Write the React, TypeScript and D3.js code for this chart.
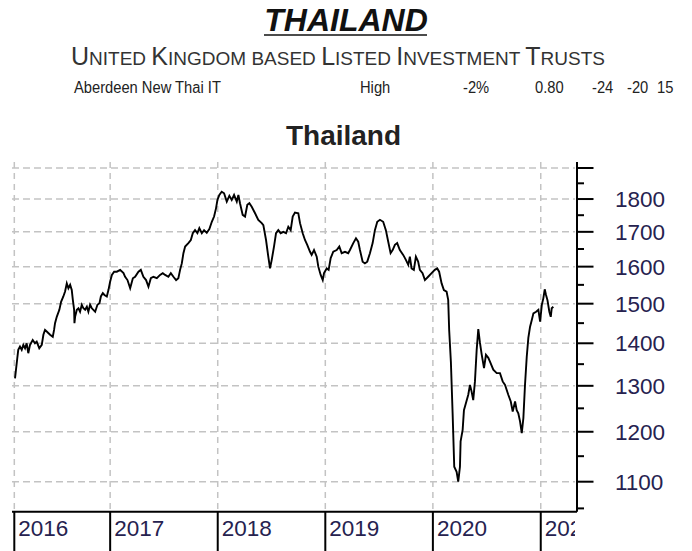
import React from 'react';
import * as d3 from 'd3';

// ---- data (decimal years, share price) ----
const years = [
  2016.118, 2016.127, 2016.139, 2016.148, 2016.164, 2016.180, 2016.195, 2016.211, 2016.226, 2016.241,
  2016.257, 2016.282, 2016.303, 2016.319, 2016.343, 2016.366, 2016.381, 2016.396, 2016.412, 2016.443,
  2016.468, 2016.480, 2016.489, 2016.505, 2016.529, 2016.545, 2016.566, 2016.582, 2016.598, 2016.613,
  2016.629, 2016.644, 2016.654, 2016.666, 2016.669, 2016.675, 2016.691, 2016.706, 2016.721, 2016.737,
  2016.752, 2016.768, 2016.784, 2016.798, 2016.814, 2016.830, 2016.861, 2016.882, 2016.901, 2016.914,
  2016.932, 2016.947, 2016.969, 2016.984, 2017.000, 2017.016, 2017.037, 2017.062, 2017.093, 2017.124,
  2017.139, 2017.161, 2017.186, 2017.211, 2017.232, 2017.263, 2017.285, 2017.309, 2017.334, 2017.356,
  2017.378, 2017.402, 2017.434, 2017.464, 2017.489, 2017.511, 2017.541, 2017.564, 2017.588, 2017.613,
  2017.634, 2017.650, 2017.666, 2017.681, 2017.697, 2017.727, 2017.750, 2017.768, 2017.789, 2017.811,
  2017.829, 2017.852, 2017.873, 2017.898, 2017.922, 2017.945, 2017.966, 2017.984, 2017.997, 2018.015,
  2018.037, 2018.059, 2018.084, 2018.108, 2018.130, 2018.152, 2018.177, 2018.192, 2018.207, 2018.232,
  2018.254, 2018.275, 2018.294, 2018.316, 2018.347, 2018.377, 2018.409, 2018.424, 2018.449, 2018.470,
  2018.486, 2018.502, 2018.523, 2018.542, 2018.563, 2018.585, 2018.610, 2018.635, 2018.656, 2018.678,
  2018.697, 2018.718, 2018.749, 2018.765, 2018.790, 2018.811, 2018.832, 2018.858, 2018.873, 2018.895,
  2018.920, 2018.935, 2018.957, 2018.976, 2018.988, 2019.013, 2019.031, 2019.050, 2019.074, 2019.106,
  2019.130, 2019.152, 2019.183, 2019.213, 2019.229, 2019.260, 2019.285, 2019.306, 2019.322, 2019.347,
  2019.368, 2019.390, 2019.415, 2019.440, 2019.461, 2019.483, 2019.508, 2019.538, 2019.563, 2019.585,
  2019.607, 2019.626, 2019.647, 2019.668, 2019.693, 2019.724, 2019.749, 2019.771, 2019.786, 2019.802,
  2019.823, 2019.842, 2019.863, 2019.879, 2019.904, 2019.926, 2019.956, 2019.988, 2020.018, 2020.040,
  2020.058, 2020.081, 2020.102, 2020.127, 2020.142, 2020.151, 2020.167, 2020.183, 2020.198, 2020.220,
  2020.235, 2020.251, 2020.257, 2020.276, 2020.288, 2020.306, 2020.328, 2020.344, 2020.359, 2020.374,
  2020.390, 2020.406, 2020.421, 2020.436, 2020.452, 2020.474, 2020.492, 2020.514, 2020.536, 2020.560,
  2020.592, 2020.622, 2020.647, 2020.669, 2020.699, 2020.722, 2020.740, 2020.762, 2020.777, 2020.792,
  2020.808, 2020.824, 2020.839, 2020.854, 2020.870, 2020.885, 2020.901, 2020.917, 2020.932, 2020.957,
  2020.978, 2020.994, 2021.010, 2021.024, 2021.037, 2021.049, 2021.062, 2021.080, 2021.093, 2021.102,
  2021.117,
];

const values = [
  1317, 1337, 1364, 1384, 1392, 1384, 1396, 1388, 1400, 1376,
  1396, 1408, 1400, 1404, 1388, 1396, 1421, 1433, 1429, 1421,
  1416, 1433, 1450, 1466, 1484, 1505, 1519, 1532, 1554, 1541,
  1550, 1536, 1510, 1484, 1450, 1466, 1484, 1488, 1479, 1497,
  1488, 1484, 1492, 1479, 1497, 1488, 1479, 1497, 1501, 1519,
  1528, 1523, 1519, 1536, 1559, 1577, 1586, 1586, 1591, 1582,
  1572, 1563, 1541, 1568, 1572, 1586, 1591, 1572, 1563, 1545,
  1568, 1572, 1568, 1577, 1582, 1577, 1572, 1582, 1572, 1563,
  1568, 1591, 1609, 1638, 1657, 1667, 1676, 1696, 1705, 1696,
  1711, 1696, 1705, 1697, 1708, 1730, 1746, 1771, 1797, 1813,
  1823, 1818, 1792, 1810, 1797, 1813, 1792, 1813, 1787, 1751,
  1746, 1782, 1787, 1776, 1756, 1736, 1726, 1720, 1676, 1628,
  1595, 1619, 1657, 1696, 1705, 1696, 1700, 1696, 1715, 1705,
  1746, 1758, 1756, 1726, 1696, 1676, 1662, 1642, 1633, 1647,
  1628, 1600, 1577, 1563, 1582, 1595, 1591, 1624, 1642, 1647,
  1657, 1638, 1642, 1638, 1647, 1667, 1681, 1671, 1647, 1614,
  1609, 1614, 1638, 1667, 1705, 1730, 1736, 1730, 1705, 1671,
  1638, 1647, 1662, 1667, 1647, 1633, 1619, 1605, 1628, 1595,
  1591, 1628, 1614, 1591, 1582, 1563, 1572, 1582, 1591, 1595,
  1586, 1554, 1536, 1532, 1510, 1433, 1355, 1239, 1129, 1119,
  1100, 1129, 1180, 1204, 1246, 1261, 1280, 1302, 1287, 1268,
  1310, 1384, 1435, 1402, 1374, 1341, 1372, 1365, 1352, 1337,
  1329, 1329, 1310, 1302, 1280, 1265, 1243, 1265, 1246, 1239,
  1222, 1197, 1229, 1302, 1367, 1413, 1441, 1458, 1475, 1479,
  1484, 1454, 1497, 1514, 1538, 1523, 1510, 1479, 1466, 1488,
  1492,
];

const majorTicks = [1100, 1200, 1300, 1400, 1500, 1600, 1700, 1800, 1900];
const minorTicks = [1050, 1150, 1250, 1350, 1450, 1550, 1650, 1750, 1850];
const labelTicks = [1100, 1200, 1300, 1400, 1500, 1600, 1700, 1800];
const yearTicks = [2016, 2017, 2018, 2019, 2020, 2021];

const headerTitle = 'THAILAND';
const subtitleWords = ['United', 'Kingdom', 'based', 'Listed', 'Investment', 'Trusts'];
const rowTexts = ['Aberdeen New Thai IT', 'High', '-2%', '0.80', '-24', '-20', '15'];
const chartTitle = 'Thailand';

// ---- layout ----
const W = 692;
const H = 551;
const L = 12;
const R = 577;
const T = 162;
const B = 511.7;
const rowX = [74, 360, 463, 535, 592, 627, 657];
const FONT = '"Liberation Sans", Arial, Helvetica, sans-serif';

function yearToDate(t: number): Date {
  const y = Math.floor(t);
  const s = Date.UTC(y, 0, 1);
  const e = Date.UTC(y + 1, 0, 1);
  return new Date(s + (t - y) * (e - s));
}

export default function App() {
  const x = d3
    .scaleUtc()
    .domain([yearToDate(2016.09), yearToDate(2021.337)])
    .range([L, R]);
  const y = d3.scaleLog().domain([1050, 1900]).range([508.4, 168.0]);

  const line = d3
    .line<number>()
    .x((_, i) => x(yearToDate(years[i])))
    .y((d) => y(d));

  const tickX = yearTicks.map((yr) => Math.max(x(new Date(Date.UTC(yr, 0, 1))), L + 2.3));

  const grid = '#c3c3c3';
  const labelColor = '#26224f';

  return (
    <div style={{ position: 'absolute', left: 0, top: 0 }}>
      <svg width={W} height={H} viewBox={`0 0 ${W} ${H}`} style={{ display: 'block', background: '#fff' }}>
        <defs>
          <clipPath id="xclip">
            <rect x={0} y={B} width={R - 2} height={H - B} />
          </clipPath>
        </defs>
        <rect x={0} y={0} width={W} height={H} fill="#fff" />

        {/* header */}
        <text x={346} y={31} textAnchor="middle" fontFamily={FONT} fontSize={32} fontWeight="bold" fontStyle="italic" fill="#111">
          {headerTitle}
        </text>
        <line x1={264} x2={427} y1={35} y2={35} stroke="#111" strokeWidth={1.6} />
        <text x={338} y={65} textAnchor="middle" fontFamily={FONT} fill="#333">
          {subtitleWords.map((w, i) => {
            const first = w[0];
            const isCap = first === first.toUpperCase();
            return (
              <React.Fragment key={i}>
                {isCap ? <tspan fontSize={25}>{first}</tspan> : <tspan fontSize={19}>{first.toUpperCase()}</tspan>}
                <tspan fontSize={19}>{w.slice(1).toUpperCase() + (i < subtitleWords.length - 1 ? ' ' : '')}</tspan>
              </React.Fragment>
            );
          })}
        </text>
        {rowTexts.map((t, i) => (
          <g key={i} transform={`translate(${rowX[i]},93) scale(0.92,1)`}>
            <text x={0} y={0} fontFamily={FONT} fontSize={16} fill="#222">
              {t}
            </text>
          </g>
        ))}

        {/* chart title */}
        <text x={343.5} y={145} textAnchor="middle" fontFamily={FONT} fontSize={28} fontWeight="bold" fill="#222">
          {chartTitle}
        </text>

        {/* grid */}
        {majorTicks.map((v) => (
          <line key={'h' + v} x1={L} x2={R - 2} y1={y(v)} y2={y(v)} stroke={grid} strokeWidth={1.5} strokeDasharray="7 4" />
        ))}
        {tickX.map((tx, i) => (
          <line key={'v' + i} x1={tx} x2={tx} y1={T} y2={B - 1} stroke={grid} strokeWidth={1.5} strokeDasharray="6 5" />
        ))}

        {/* price line */}
        <path d={line(values) || ''} fill="none" stroke="#000" strokeWidth={1.9} strokeLinejoin="miter" />

        {/* y axis */}
        <line x1={R} x2={R} y1={T} y2={B} stroke="#000" strokeWidth={2} />
        {majorTicks.map((v) => (
          <line key={'mt' + v} x1={R} x2={R + 16.5} y1={y(v)} y2={y(v)} stroke="#000" strokeWidth={2} />
        ))}
        {minorTicks.map((v) => (
          <line key={'nt' + v} x1={R} x2={R + 7} y1={y(v)} y2={y(v)} stroke="#000" strokeWidth={2} />
        ))}
        {labelTicks.map((v) => (
          <text key={'yl' + v} x={615} y={y(v)} dy="0.36em" fontFamily={FONT} fontSize={22.5} fill={labelColor}>
            {v}
          </text>
        ))}

        {/* x axis */}
        <line x1={L} x2={R} y1={B} y2={B} stroke="#000" strokeWidth={2} />
        {tickX.map((tx, i) => (
          <line key={'xt' + i} x1={tx} x2={tx} y1={B} y2={H} stroke="#000" strokeWidth={2} />
        ))}
        <g clipPath="url(#xclip)">
          {yearTicks.map((yr, i) => (
            <text key={'xl' + yr} x={tickX[i] + 4} y={536} fontFamily={FONT} fontSize={22.5} fill={labelColor}>
              {yr}
            </text>
          ))}
        </g>
      </svg>
    </div>
  );
}
